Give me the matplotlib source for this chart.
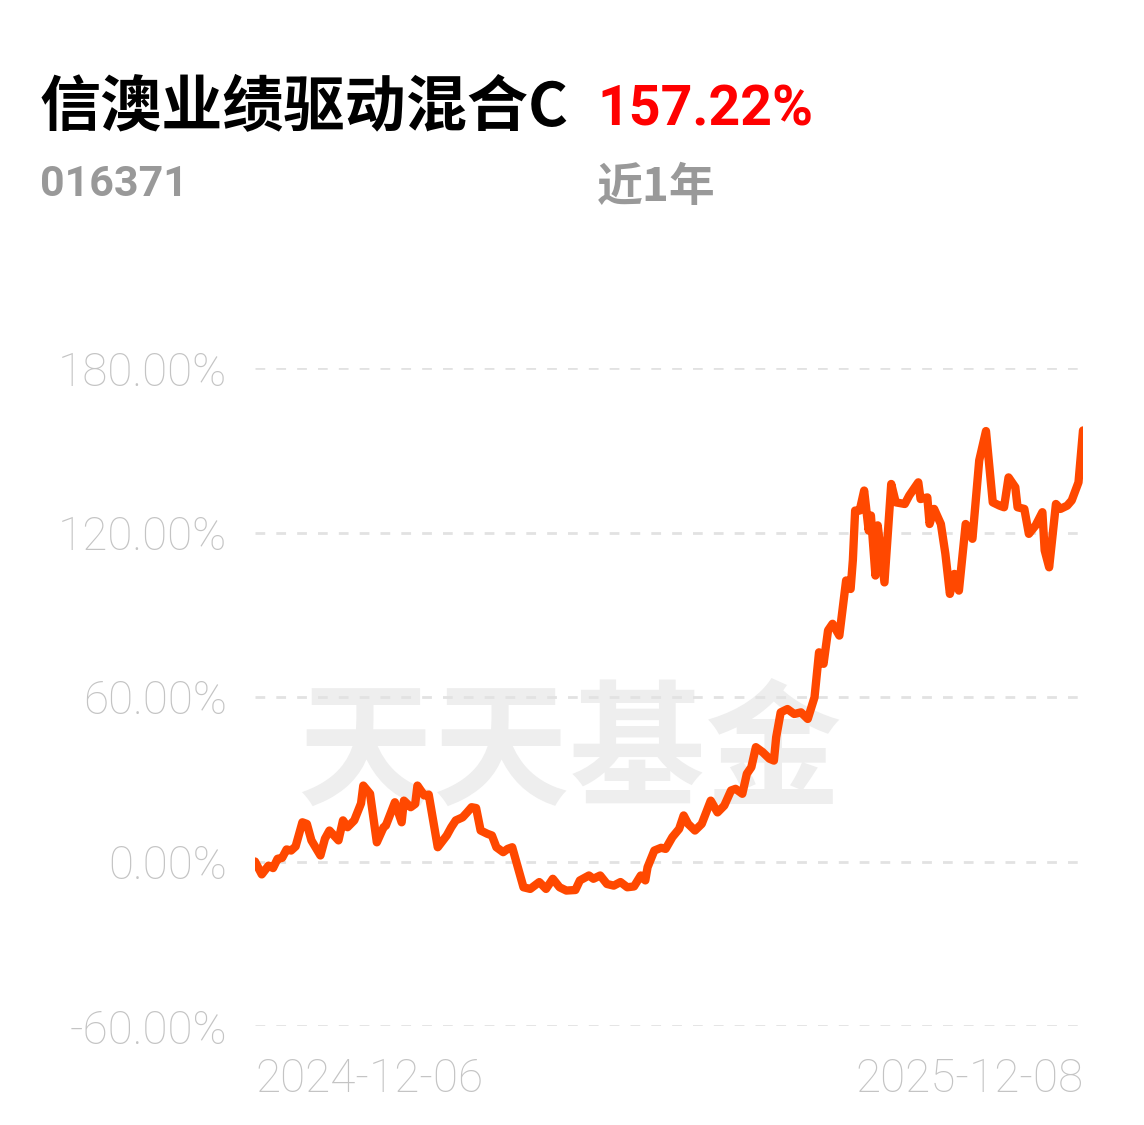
import numpy as np
import pandas as pd
from matplotlib import pyplot as plt

# fund cumulative return over the last year
start_date = '2024-12-06'
day = [0, 3, 6, 8, 10, 12, 14, 16, 18, 21, 23, 25, 29, 31, 33, 35, 37, 39, 41, 44,
       47, 48, 51, 54, 57, 58, 62, 65, 66, 69, 71, 72, 75, 77, 81, 85, 87, 89, 92, 94,
       96, 98, 100, 103, 105, 107, 110, 112, 114, 119, 122, 126, 129, 132, 135, 138, 142, 144, 148, 150,
       153, 156, 159, 162, 165, 168, 171, 173, 174, 177, 180, 182, 185, 188, 190, 192, 195, 198, 200, 202,
       205, 208, 211, 213, 216, 218, 220, 222, 225, 228, 230, 231, 233, 236, 239, 242, 245, 248, 250, 252,
       254, 256, 259, 262, 264, 265, 266, 268, 270, 272, 273, 275, 276, 279, 282, 284, 288, 290, 294, 295,
       298, 299, 301, 304, 306, 308, 310, 312, 315, 318, 321, 324, 327, 330, 332, 334, 337, 338, 341, 343,
       346, 349, 350, 352, 355, 357, 360, 362, 365, 367]
ret = [0.0, -4.7, -1.5, -2.4, 1.0, 1.3, 4.4, 4.0, 5.5, 14.3, 13.7, 7.7, 2.2, 8.3, 11.3, 9.5, 7.7, 15.0, 12.5, 15.0,
       21.2, 27.7, 24.7, 7.0, 12.5, 13.1, 21.6, 14.3, 22.2, 19.8, 21.0, 27.7, 24.1, 24.4, 5.2, 9.5, 12.5, 15.0, 16.1, 17.9,
       19.8, 19.5, 11.3, 10.1, 9.5, 5.2, 3.4, 4.6, 5.2, -9.4, -10.0, -7.5, -10.0, -6.3, -9.4, -10.6, -10.4, -6.9, -5.1, -6.3,
       -5.1, -8.2, -8.8, -7.5, -9.4, -9.1, -5.1, -6.9, -2.1, 4.0, 5.0, 4.6, 8.9, 11.9, 16.8, 13.7, 11.3, 13.7, 17.9, 22.2,
       17.9, 20.4, 25.9, 26.5, 24.7, 32.0, 34.4, 41.7, 39.9, 37.5, 36.8, 45.3, 54.4, 55.6, 53.8, 54.4, 52.0, 59.9, 76.3, 72.1,
       84.3, 86.7, 82.4, 102.5, 99.4, 110.0, 128.0, 128.0, 135.3, 120.7, 126.2, 104.3, 122.6, 101.8, 137.7, 131.0, 130.4, 133.5, 138.3, 132.2,
       132.8, 123.1, 128.6, 123.1, 112.2, 97.6, 104.9, 98.8, 123.1, 117.7, 146.3, 157.0, 131.0, 129.8, 129.2, 140.1, 136.5, 129.2, 128.6, 119.5,
       122.6, 127.4, 113.5, 107.3, 130.4, 128.6, 129.8, 131.7, 138.3, 157.22]
yticks = [-60, 0, 60, 120, 180]
fund_name = '信澳业绩驱动混合C'
fund_code = '016371'
period_ret = '157.22%'
period = '近1年'

dates = pd.to_datetime(start_date) + pd.to_timedelta(day, unit='D')

fig = plt.figure(figsize=(11.44, 11.25), dpi=100)
ax = fig.add_axes([255/1144, 1 - 1026/1125, 828/1144, 658/1125])

cjk = ['Noto Sans CJK SC', 'DejaVu Sans']

# watermark
ax.text(0.38, 0.41, '天天基金', transform=ax.transAxes, ha='center', va='center',
        fontsize=98, color='#eeeeee', fontweight='bold', family=cjk, zorder=0)

ax.plot(dates, ret, color='#ff4800', lw=6.0, solid_joinstyle='round',
        solid_capstyle='round', zorder=3)

for t in yticks:
    ax.axhline(t, color='#e2e2e2', lw=2, ls=(0, (3.5, 4)), zorder=1)

ax.set_ylim(-60, 180)
ax.set_xlim(dates[0], dates[-1])
ax.set_yticks(yticks)
ax.set_yticklabels(['%.2f%%' % t for t in yticks])
ax.set_xticks([dates[0], dates[-1]])
ax.set_xticklabels([start_date, '2025-12-08'])
ax.tick_params(length=0, colors='#c4c4c4', labelsize=33)
ax.tick_params(axis='y', pad=20)
ax.tick_params(axis='x', pad=22)
for lab in ax.get_xticklabels() + ax.get_yticklabels():
    lab.set_family('Roboto')
    lab.set_fontweight('light')
xl = ax.get_xticklabels()
xl[0].set_ha('left')
xl[1].set_ha('right')
for s in ax.spines.values():
    s.set_visible(False)

fig.text(40/1144, 1 - 107/1125, fund_name, fontsize=44, fontweight='bold',
         family=cjk, color='black', va='center', ha='left')
fig.text(597/1144, 1 - 110/1125, period_ret, fontsize=40, fontweight='bold',
         family='Roboto', color='#ff0000', va='center', ha='left')
fig.text(40/1144, 1 - 184/1125, fund_code, fontsize=31, fontweight='bold',
         family='Roboto', color='#999999', va='center', ha='left')
fig.text(597/1144, 1 - 188/1125, period, fontsize=33, fontweight='bold',
         family=cjk, color='#999999', va='center', ha='left')

fig.savefig('out.png', dpi=100, facecolor='white')
